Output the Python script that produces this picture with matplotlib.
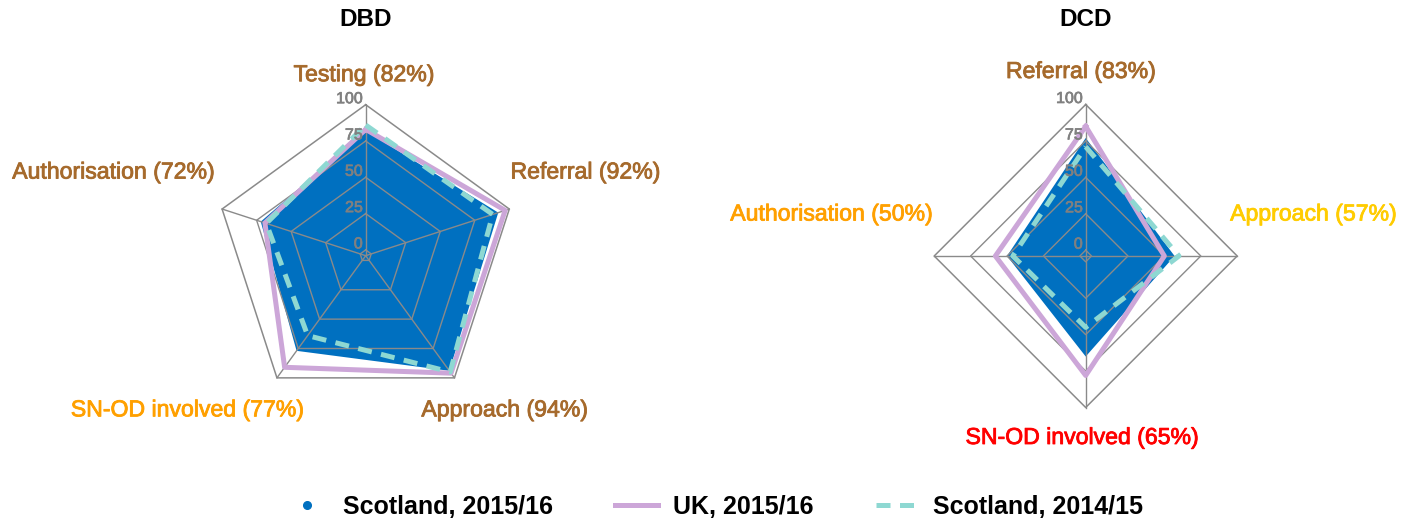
import matplotlib
matplotlib.use("Agg")
import matplotlib.pyplot as plt
import matplotlib.patheffects as pe
import numpy as np
from matplotlib.lines import Line2D
from matplotlib.transforms import offset_copy

# ---- data ----
dbd_categories = ["Testing", "Referral", "Approach", "SN-OD involved", "Authorisation"]
dbd_pct = [82, 92, 94, 77, 72]
dbd_scotland_1516 = [82, 92, 94, 77, 72]
dbd_uk_1516 = [83, 97, 96, 91, 69]
dbd_scotland_1415 = [86, 88, 95, 64, 68]

dcd_categories = ["Referral", "Approach", "SN-OD involved", "Authorisation"]
dcd_pct = [83, 57, 65, 50]
dcd_scotland_1516 = [77, 57, 65, 50]
dcd_uk_1516 = [85, 50, 78, 58]
dcd_scotland_1415 = [71, 60, 45, 46]

ring_values = [0, 25, 50, 75, 100]
series_names = ["Scotland, 2015/16", "UK, 2015/16", "Scotland, 2014/15"]

# ---- style ----
BLUE = "#0070C0"
PURPLE = "#CCA6D8"
CYAN = "#8ED8D2"
GRID = "#8A8A8A"
BROWN = "#A66A2C"
ORANGE = "#FFA000"
YELLOW = "#FFCC00"
RED = "#FF0000"
R_MIN = -4

dbd_label_colors = [BROWN, BROWN, BROWN, ORANGE, BROWN]
dcd_label_colors = [BROWN, YELLOW, RED, ORANGE]
# label centre offsets from each outer vertex, in pixels
dbd_label_offsets = [(-2, 30), (76, 37), (50, -32), (-90, -32), (-109, 37)]
dcd_label_offsets = [(-5, 33), (76, 42), (-4, -30), (-103, 42)]

plt.rcParams['font.family'] = ['Liberation Sans', 'DejaVu Sans']

W, H = 1412, 522
fig = plt.figure(figsize=(W / 100, H / 100), dpi=100)


def heavy(color, w=0.6):
    # slightly heavier text, like the original renderer
    return [pe.withStroke(linewidth=w, foreground=color)]


def add_polar(cx, cy, r):
    return fig.add_axes([(cx - r) / W, (H - cy - r) / H, 2 * r / W, 2 * r / H],
                        projection='polar')


def close(v):
    return np.append(v, v[0])


def draw_radar(ax, cats, pct, s1516, uk, s1415, colors, offsets):
    n = len(cats)
    angles = np.arange(n) * 2 * np.pi / n
    closed = close(angles)
    ax.set_theta_offset(np.pi / 2)
    ax.set_theta_direction(-1)
    ax.set_ylim(R_MIN, 100)
    ax.set_xticks([])
    ax.set_yticks([])
    ax.grid(False)
    ax.spines['polar'].set_visible(False)
    ax.patch.set_alpha(0)

    ax.fill(closed, close(s1516), color=BLUE, lw=0, zorder=1)

    # polygon grid
    for v in ring_values:
        ax.plot(closed, [v] * (n + 1), color=GRID, lw=1.0 if v < 100 else 1.1,
                zorder=2, clip_on=False)
    for a in angles:
        ax.plot([a, a], [R_MIN, 100], color=GRID, lw=1.0, zorder=2, clip_on=False)

    ax.plot(closed, close(uk), color=PURPLE, lw=3.6, solid_joinstyle='round',
            zorder=3, clip_on=False)
    ax.plot(closed, close(s1415), color=CYAN, lw=3.6, ls=(0, (2.8, 1.9)),
            dash_joinstyle='round', zorder=4, clip_on=False)

    for v in ring_values:
        ax.text(0, v, str(v), transform=offset_copy(ax.transData, fig=fig, x=-3, y=6, units='dots'),
                ha='right', va='center', fontsize=11.5, color='#808080', zorder=5,
                clip_on=False, path_effects=heavy('#808080', 0.5))

    for a, c, p, col, (dx, dy) in zip(angles, cats, pct, colors, offsets):
        ax.text(a, 100, f"{c} ({p}%)",
                transform=offset_copy(ax.transData, fig=fig, x=dx, y=dy, units='dots'),
                ha='center', va='center', fontsize=16.6, color=col, clip_on=False,
                path_effects=heavy(col))


ax1 = add_polar(365.7, 255.7, 151)
draw_radar(ax1, dbd_categories, dbd_pct, dbd_scotland_1516, dbd_uk_1516,
           dbd_scotland_1415, dbd_label_colors, dbd_label_offsets)

ax2 = add_polar(1085.7, 256, 151.5)
draw_radar(ax2, dcd_categories, dcd_pct, dcd_scotland_1516, dcd_uk_1516,
           dcd_scotland_1415, dcd_label_colors, dcd_label_offsets)

fig.text(365.7 / W, 1 - 20 / H, "DBD", ha='center', va='center', fontsize=17.5, weight='bold')
fig.text(1085.7 / W, 1 - 20 / H, "DCD", ha='center', va='center', fontsize=17.5, weight='bold')

handles = [
    Line2D([], [], marker='o', ls='none', color=BLUE, markersize=5.5),
    Line2D([], [], color=PURPLE, lw=3.6),
    Line2D([], [], color=CYAN, lw=3.6, ls=(0, (2.8, 1.9))),
]
fig.legend(handles, series_names, loc='center', bbox_to_anchor=(0.506, 1 - 507 / H),
           ncol=3, frameon=False, prop=dict(weight='bold', size=18),
           handlelength=1.7, handletextpad=0.6, columnspacing=2.5)

fig.savefig("out.png", dpi=100, facecolor='white')
